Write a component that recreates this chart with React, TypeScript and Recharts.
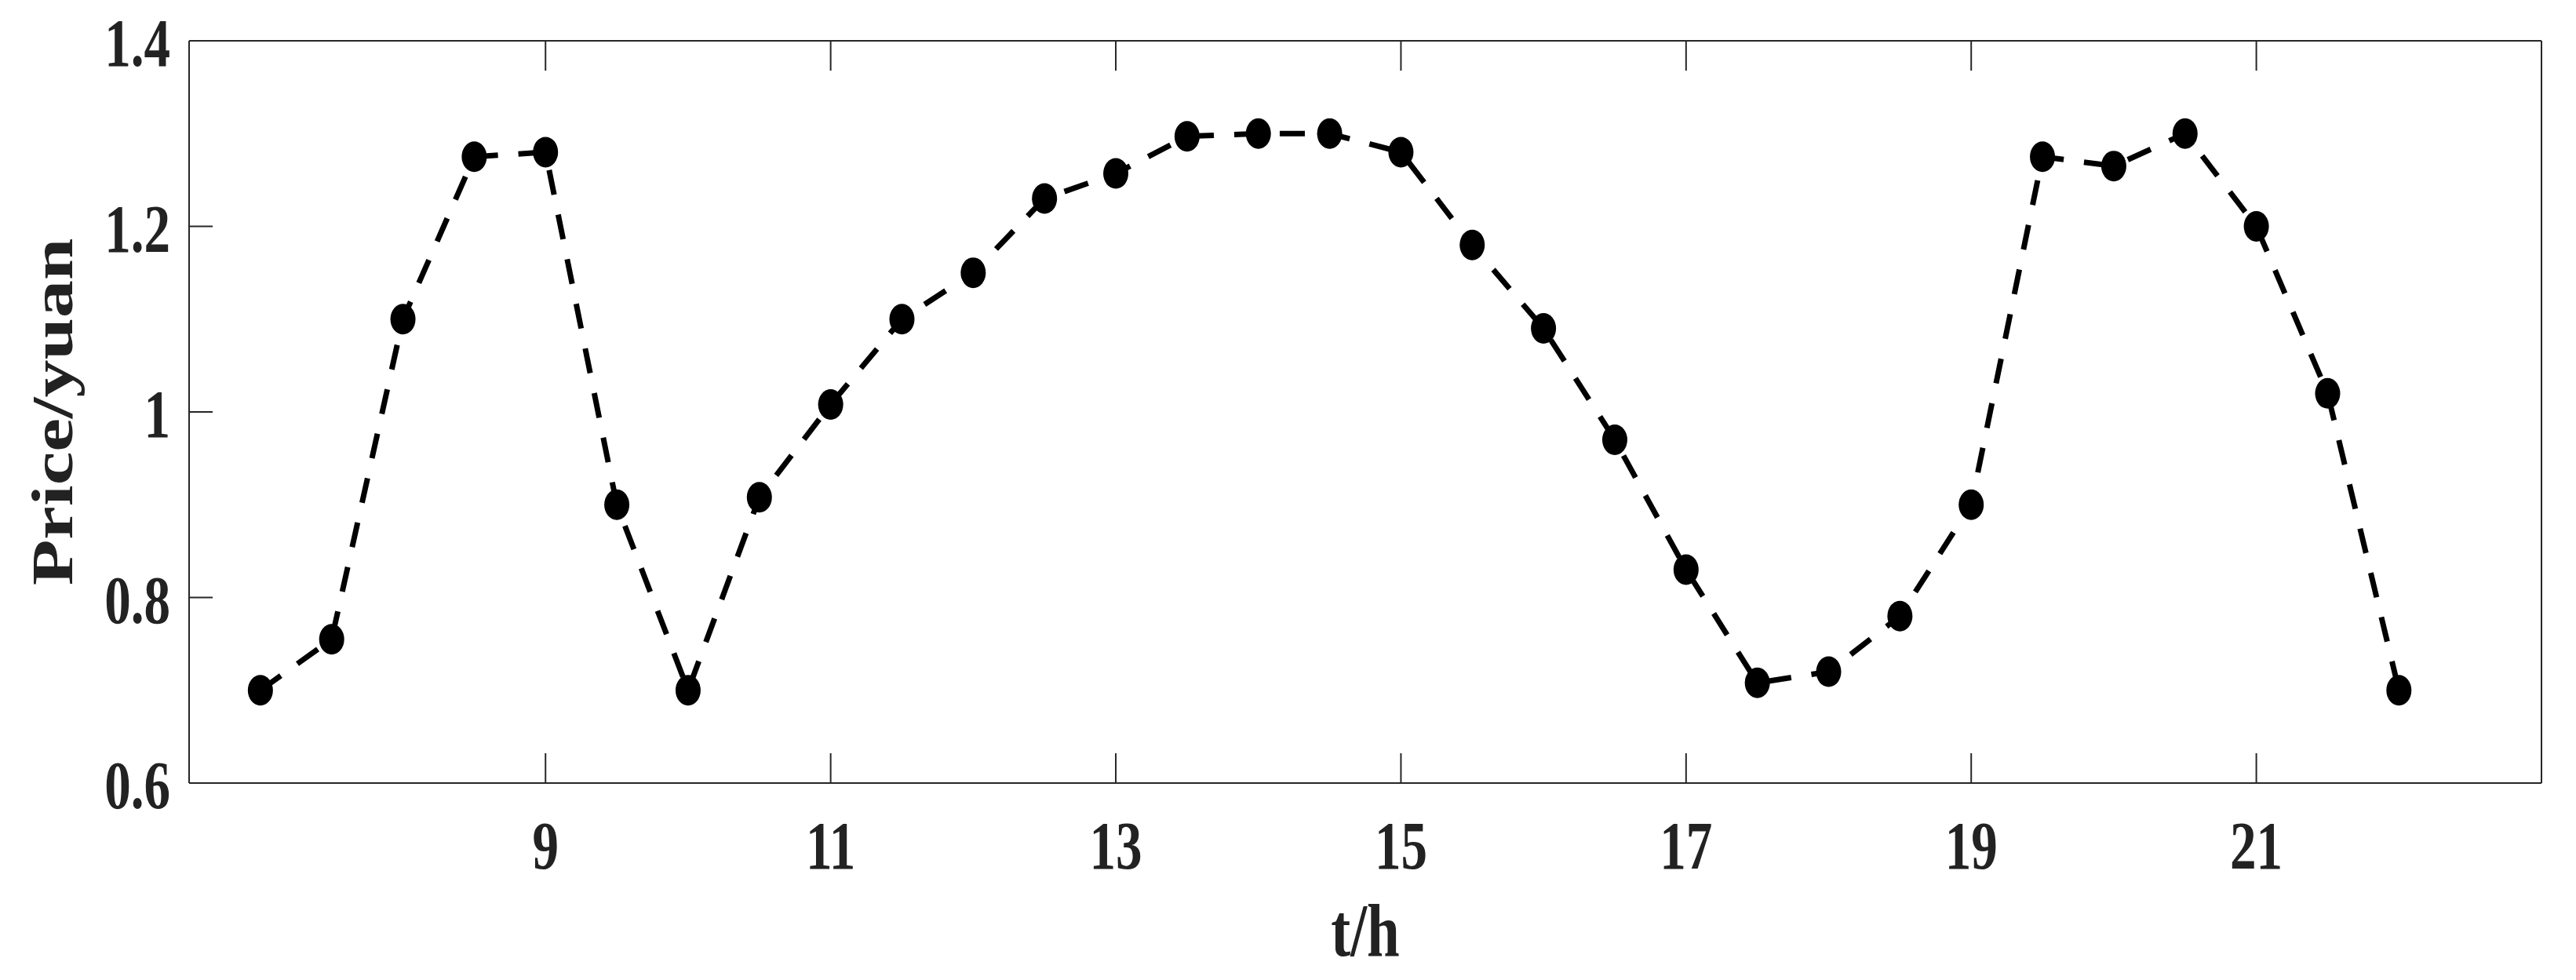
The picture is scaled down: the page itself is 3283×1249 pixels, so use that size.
import React from 'react';
import { LineChart, Line, XAxis, YAxis } from 'recharts';

// hour of day (half-hour steps)
const hours = [
  7, 7.5, 8, 8.5, 9, 9.5, 10, 10.5, 11, 11.5, 12, 12.5, 13, 13.5, 14, 14.5,
  15, 15.5, 16, 16.5, 17, 17.5, 18, 18.5, 19, 19.5, 20, 20.5, 21, 21.5, 22,
];

// price in yuan
const prices = [
  0.7, 0.755, 1.1, 1.275, 1.28, 0.9, 0.7, 0.908, 1.008, 1.1, 1.15, 1.23, 1.257, 1.297, 1.3, 1.3,
  1.28, 1.18, 1.09, 0.97, 0.83, 0.708, 0.72, 0.78, 0.9, 1.275, 1.265, 1.3, 1.2, 1.02, 0.7,
];

const xTicks = [9, 11, 13, 15, 17, 19, 21];
const yTicks = [0.6, 0.8, 1, 1.2, 1.4];

const FONT = '"Liberation Serif", "Times New Roman", serif';
const AXIS = '#262626';
const SQUEEZE = 0.78; // the original figure was squeezed sideways

const XTick = (props: any) => {
  const { x, y, payload } = props;
  return (
    <text
      transform={`translate(${x},${y}) scale(${SQUEEZE},1)`}
      textAnchor="middle"
      fontFamily={FONT}
      fontWeight="bold"
      fontSize={86}
      fill="#222"
    >
      {payload.value}
    </text>
  );
};

const YTick = (props: any) => {
  const { x, y, payload } = props;
  return (
    <text
      transform={`translate(${x},${y + 32}) scale(${SQUEEZE},1)`}
      textAnchor="end"
      fontFamily={FONT}
      fontWeight="bold"
      fontSize={86}
      fill="#222"
    >
      {payload.value}
    </text>
  );
};

// box axes: tick marks only, no labels
const NoLabel = () => <g />;

const XLabel = (props: any) => {
  const vb = props.viewBox || { x: 241, y: 998, width: 2998 };
  return (
    <text
      transform={`translate(${vb.x + vb.width / 2},${vb.y + 220}) scale(${SQUEEZE},1)`}
      textAnchor="middle"
      fontFamily={FONT}
      fontWeight="bold"
      fontSize={96}
      fill="#222"
    >
      t/h
    </text>
  );
};

const YLabel = (props: any) => {
  const vb = props.viewBox || { x: 141, y: 52, height: 946 };
  return (
    <text
      transform={`translate(${vb.x - 49},${vb.y + vb.height / 2}) scale(${SQUEEZE},1) rotate(-90)`}
      textAnchor="middle"
      fontFamily={FONT}
      fontWeight="bold"
      fontSize={96}
      fill="#222"
    >
      Price/yuan
    </text>
  );
};

const Marker = (props: any) => {
  const { cx, cy, index } = props;
  return <ellipse key={`m-${index}`} cx={cx} cy={cy} rx={16} ry={19.5} fill="#000" />;
};

const App: React.FC = () => {
  const data = hours.map((t, i) => ({ t, price: prices[i] }));

  return (
    <div style={{ position: 'absolute', left: 0, top: 0, width: 3283, height: 1249, background: '#fff' }}>
      <LineChart
        width={3283}
        height={1249}
        data={data}
        margin={{ top: 51, right: 43, bottom: 51, left: 141 }}
      >
        <XAxis
          xAxisId="bottom"
          type="number"
          dataKey="t"
          domain={[6.5, 23]}
          ticks={xTicks}
          interval={0}
          height={200}
          axisLine={{ stroke: AXIS, strokeWidth: 2 }}
          tickLine={{ stroke: AXIS, strokeWidth: 2 }}
          tickSize={-38}
          tickMargin={147}
          tick={<XTick />}
          label={{ content: (p: any) => <XLabel {...p} /> }}
        />
        <XAxis
          xAxisId="top"
          orientation="top"
          type="number"
          dataKey="t"
          domain={[6.5, 23]}
          ticks={xTicks}
          interval={0}
          height={1}
          axisLine={{ stroke: AXIS, strokeWidth: 2 }}
          tickLine={{ stroke: AXIS, strokeWidth: 2 }}
          tickSize={-38}
          tick={<NoLabel />}
        />
        <YAxis
          yAxisId="left"
          type="number"
          domain={[0.6, 1.4]}
          ticks={yTicks}
          interval={0}
          width={100}
          axisLine={{ stroke: AXIS, strokeWidth: 2 }}
          tickLine={{ stroke: AXIS, strokeWidth: 2 }}
          tickSize={-30}
          tickMargin={54}
          tick={<YTick />}
          label={{ content: (p: any) => <YLabel {...p} /> }}
        />
        <YAxis
          yAxisId="right"
          orientation="right"
          type="number"
          domain={[0.6, 1.4]}
          ticks={yTicks}
          interval={0}
          width={1}
          axisLine={{ stroke: AXIS, strokeWidth: 2 }}
          tickLine={{ stroke: AXIS, strokeWidth: 2 }}
          tickSize={-30}
          tick={<NoLabel />}
        />
        <Line
          xAxisId="bottom"
          yAxisId="left"
          type="linear"
          dataKey="price"
          stroke="#000"
          strokeWidth={7}
          strokeDasharray="32 26"
          dot={Marker}
          activeDot={false}
          isAnimationActive={false}
        />
      </LineChart>
    </div>
  );
};

export default App;
